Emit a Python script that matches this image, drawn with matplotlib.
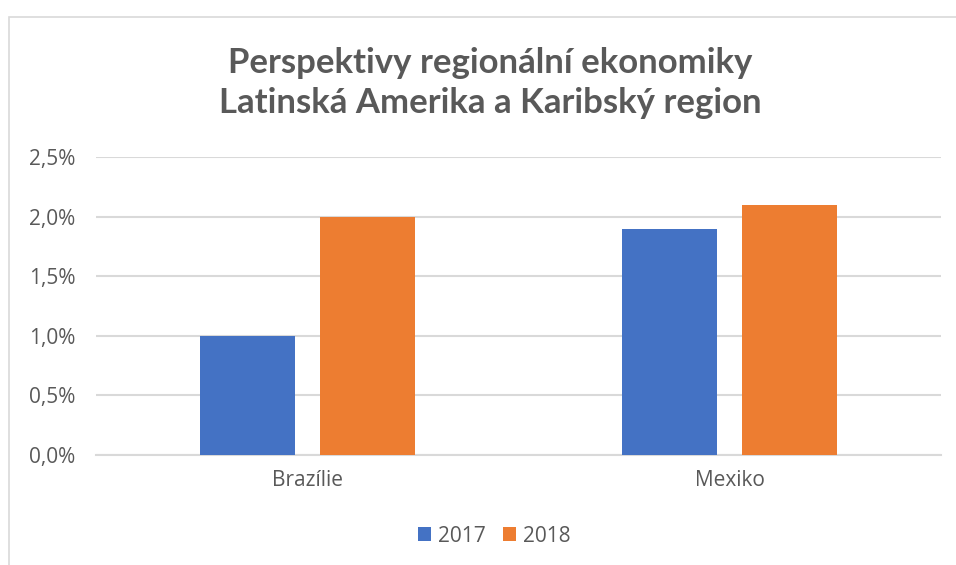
import numpy as np
import matplotlib.pyplot as plt
from matplotlib.patches import Rectangle
from matplotlib.ticker import FuncFormatter

plt.rcParams['font.family'] = ['Open Sans', 'DejaVu Sans']

categories = ['Brazílie', 'Mexiko']
series = ['2017', '2018']
values_2017 = [1.0, 1.9]
values_2018 = [2.0, 2.1]
yticks = [0.0, 0.5, 1.0, 1.5, 2.0, 2.5]

BLUE = '#4472C4'
ORANGE = '#ED7D31'
GREY = '#595959'
GRID = '#D9D9D9'

fig = plt.figure(figsize=(9.56, 5.65), dpi=100)
fig.patches.append(Rectangle((9 / 956, -0.1), 1.2, 1.1 - 17 / 565,
                             transform=fig.transFigure, fill=False,
                             edgecolor=GRID, linewidth=1.2))

ax = fig.add_axes([96 / 956, 1 - 455 / 565, 845 / 956, 298 / 565])

x = np.arange(len(categories))
w = 0.225
off = 0.142
ax.bar(x - off, values_2017, w, color=BLUE, label=series[0], zorder=3)
ax.bar(x + off, values_2018, w, color=ORANGE, label=series[1], zorder=3)

ax.set_xlim(-0.5, 1.5)
ax.set_ylim(0, 2.5)
ax.set_yticks(yticks)
ax.yaxis.set_major_formatter(FuncFormatter(lambda v, p: f'{v:.1f}%'.replace('.', ',')))
ax.set_xticks(x)
ax.set_xticklabels(categories)
ax.tick_params(axis='both', length=0, labelsize=15, colors=GREY)
ax.tick_params(axis='x', pad=11)
ax.tick_params(axis='y', pad=15)
ax.grid(axis='y', color=GRID, linewidth=1.5, zorder=0)
for s in ['top', 'right', 'left']:
    ax.spines[s].set_visible(False)
ax.spines['bottom'].set_color(GRID)
ax.spines['bottom'].set_linewidth(1.5)

fig.text(0.513, 1 - 83 / 565, 'Perspektivy regionální ekonomiky\nLatinská Amerika a Karibský region',
         ha='center', va='center', fontsize=25, fontweight='bold', color=GREY,
         linespacing=1.33, family=['Lato', 'DejaVu Sans'])

leg = fig.legend(loc='center', bbox_to_anchor=(0.517, 1 - 536 / 565), ncol=2,
                 frameon=False, fontsize=15, handlelength=0.62, handleheight=0.62,
                 columnspacing=0.8, handletextpad=0.35)
for t in leg.get_texts():
    t.set_color(GREY)

fig.savefig('out.png', dpi=100)
